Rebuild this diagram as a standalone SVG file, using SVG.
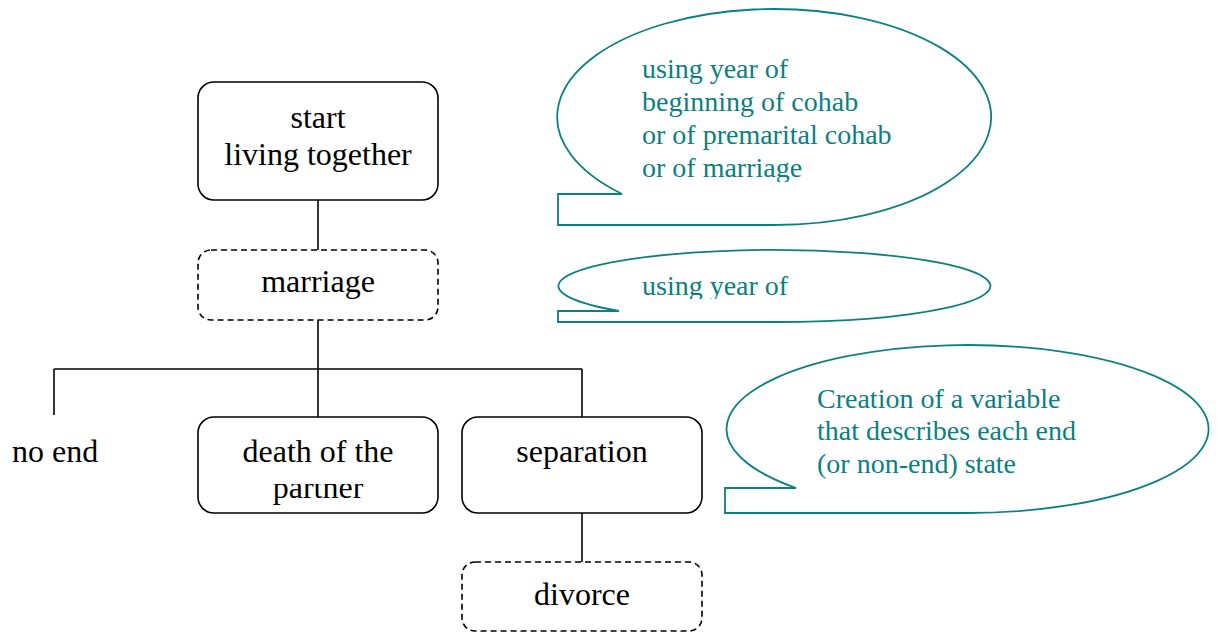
<svg xmlns="http://www.w3.org/2000/svg" width="1217" height="633" viewBox="0 0 1217 633">
<style>
.box{fill:#fff;stroke:#000;stroke-width:1.6}
.dash{stroke-dasharray:6 4}
.conn{stroke:#000;stroke-width:1.6;fill:none}
.t{font-family:"Liberation Serif","Times New Roman",serif;font-size:32px;fill:#000}
.mid{text-anchor:middle}
.call{fill:#fff;stroke:#0a8080;stroke-width:1.8}
.ct{font-family:"Liberation Serif","Times New Roman",serif;font-size:28px;fill:#0a8080}
</style>
<defs>
<clipPath id="clipPartner"><rect x="198" y="484" width="240" height="29"/></clipPath>
<clipPath id="clipC1"><rect x="600" y="10" width="380" height="172"/></clipPath>
<clipPath id="clipC2"><rect x="600" y="250" width="380" height="49"/></clipPath>
</defs>
<rect width="1217" height="633" fill="#fff"/>
<g id="connectors">
<line class="conn" x1="318" y1="200" x2="318" y2="250"/>
<line class="conn" x1="318" y1="320" x2="318" y2="369"/>
<line class="conn" x1="54" y1="369" x2="582" y2="369"/>
<line class="conn" x1="54" y1="369" x2="54" y2="415"/>
<line class="conn" x1="318" y1="369" x2="318" y2="417"/>
<line class="conn" x1="582" y1="369" x2="582" y2="417"/>
<line class="conn" x1="582" y1="513" x2="582" y2="562"/>
</g>
<g id="node-start">
<rect class="box" x="198" y="82" width="240" height="118" rx="16"/>
<text class="t mid" x="318" y="128">start</text>
<text class="t mid" x="318" y="165">living together</text>
</g>
<g id="node-marriage">
<rect class="box dash" x="198" y="250" width="240" height="70" rx="13"/>
<text class="t mid" x="318" y="292">marriage</text>
</g>
<g id="node-noend">
<text class="t" x="12" y="462">no end</text>
</g>
<g id="node-death">
<rect class="box" x="198" y="417" width="240" height="96" rx="16"/>
<text class="t mid" x="318" y="462">death of the</text>
<text class="t mid" x="318" y="498" clip-path="url(#clipPartner)">partner</text>
</g>
<g id="node-separation">
<rect class="box" x="462" y="417" width="240" height="96" rx="16"/>
<text class="t mid" x="582" y="462">separation</text>
</g>
<g id="node-divorce">
<rect class="box dash" x="462" y="562" width="240" height="69" rx="13"/>
<text class="t mid" x="582" y="605">divorce</text>
</g>
<g id="callout-1">
<path class="call" d="M622 194 A217 108 0 1 1 774 225 L558 225 L558 194 Z"/>
<g clip-path="url(#clipC1)">
<text class="ct" x="642" y="78">using year of</text>
<text class="ct" x="642" y="111">beginning of cohab</text>
<text class="ct" x="642" y="144">or of premarital cohab</text>
<text class="ct" x="642" y="177">or of marriage</text>
</g>
</g>
<g id="callout-2">
<path class="call" d="M619 311 A216 36 0 1 1 774 322 L558 322 L558 311 Z"/>
<text class="ct" x="642" y="295" clip-path="url(#clipC2)">using year of</text>
</g>
<g id="callout-3">
<path class="call" d="M796 488 A241 84 0 1 1 966 513 L725 513 L725 488 Z"/>
<text class="ct" x="817" y="408">Creation of a variable</text>
<text class="ct" x="817" y="440">that describes each end</text>
<text class="ct" x="817" y="473">(or non-end) state</text>
</g>
</svg>
